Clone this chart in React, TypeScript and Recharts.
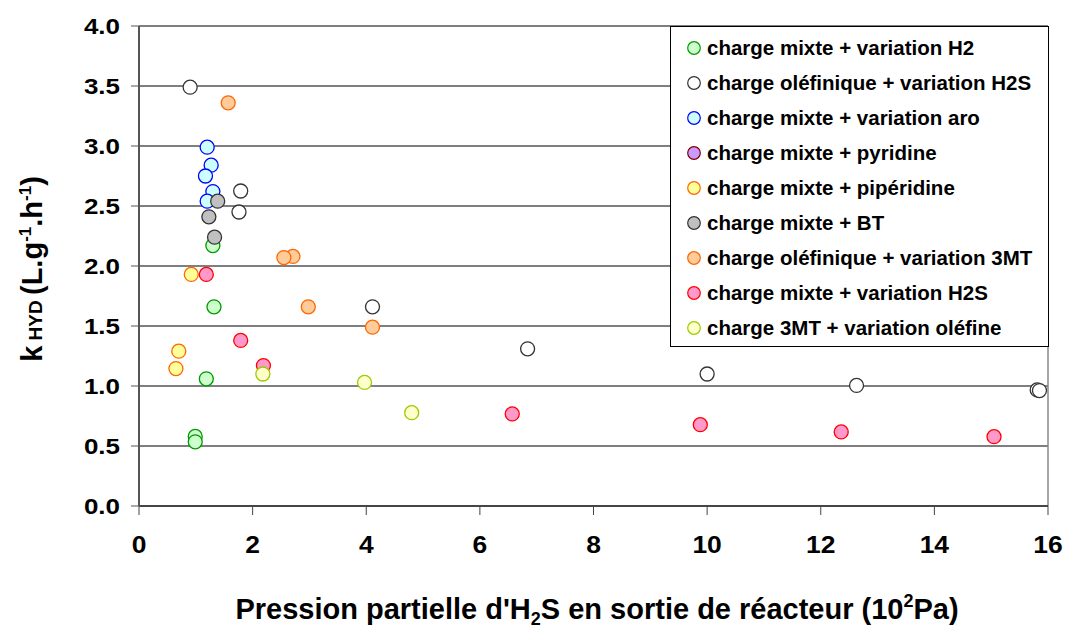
import React from 'react'
import { ScatterChart, Scatter, XAxis, YAxis, CartesianGrid, ReferenceLine } from 'recharts'

const FONT = '"Liberation Sans", Arial, Helvetica, sans-serif'

// axis ticks
const xTicks = [0, 2, 4, 6, 8, 10, 12, 14, 16]
const yTicks = [0, 0.5, 1, 1.5, 2, 2.5, 3, 3.5, 4]

// pH2S (10^2 Pa) vs kHYD (L.g-1.h-1), one array per series
const mixteH2 = [
  { x: 1.32, y: 1.66 },
  { x: 1.3, y: 2.17 },
  { x: 1.185, y: 1.06 },
  { x: 0.99, y: 0.58 },
  { x: 0.99, y: 0.535 },
]
const olefiniqueH2S = [
  { x: 0.9, y: 3.49 },
  { x: 1.79, y: 2.625 },
  { x: 1.76, y: 2.45 },
  { x: 4.11, y: 1.66 },
  { x: 6.84, y: 1.31 },
  { x: 10.0, y: 1.1 },
  { x: 12.63, y: 1.005 },
  { x: 15.81, y: 0.967 },
  { x: 15.85, y: 0.962 },
]
const mixteAro = [
  { x: 1.2, y: 2.99 },
  { x: 1.27, y: 2.84 },
  { x: 1.17, y: 2.75 },
  { x: 1.3, y: 2.62 },
  { x: 1.2, y: 2.54 },
]
const mixtePyridine: { x: number; y: number }[] = []
const mixtePiperidine = [
  { x: 0.92, y: 1.93 },
  { x: 0.7, y: 1.29 },
  { x: 0.65, y: 1.145 },
]
const mixteBT = [
  { x: 1.385, y: 2.54 },
  { x: 1.23, y: 2.41 },
  { x: 1.33, y: 2.24 },
]
const olefinique3MT = [
  { x: 1.57, y: 3.36 },
  { x: 2.71, y: 2.08 },
  { x: 2.55, y: 2.07 },
  { x: 2.98, y: 1.66 },
  { x: 4.11, y: 1.49 },
]
const mixteH2S = [
  { x: 1.185, y: 1.93 },
  { x: 1.79, y: 1.38 },
  { x: 2.19, y: 1.17 },
  { x: 6.57, y: 0.767 },
  { x: 9.88, y: 0.678 },
  { x: 12.36, y: 0.617 },
  { x: 15.05, y: 0.578 },
]
const mt3Olefine = [
  { x: 2.18, y: 1.1 },
  { x: 3.97, y: 1.03 },
  { x: 4.8, y: 0.778 },
]

const series = [
  { name: 'charge mixte + variation H2', data: mixteH2, fill: '#ccffcc', stroke: '#009900' },
  { name: 'charge oléfinique + variation H2S', data: olefiniqueH2S, fill: '#ffffff', stroke: '#333333' },
  { name: 'charge mixte + variation aro', data: mixteAro, fill: '#ccffff', stroke: '#0000ff' },
  { name: 'charge mixte + pyridine', data: mixtePyridine, fill: '#cc99ff', stroke: '#800000' },
  { name: 'charge mixte + pipéridine', data: mixtePiperidine, fill: '#ffff99', stroke: '#ff6600' },
  { name: 'charge mixte + BT', data: mixteBT, fill: '#c0c0c0', stroke: '#333333' },
  { name: 'charge oléfinique + variation 3MT', data: olefinique3MT, fill: '#ffcc99', stroke: '#ff6600' },
  { name: 'charge mixte + variation H2S', data: mixteH2S, fill: '#ff99cc', stroke: '#ff0000' },
  { name: 'charge 3MT + variation oléfine', data: mt3Olefine, fill: '#ffffcc', stroke: '#99cc00' },
]

const XTick = ({ x, y, payload }: any) => (
  <g transform={`translate(${x},${y + 38})`}>
    <text transform="scale(1.15,1)" textAnchor="middle" fontFamily={FONT} fontWeight="bold" fontSize={23} fill="#000">
      {payload.value}
    </text>
  </g>
)

const YTick = ({ x, y, payload }: any) => (
  <g transform={`translate(${x - 11},${y + 8})`}>
    <text transform="scale(1.18,1)" textAnchor="end" fontFamily={FONT} fontWeight="bold" fontSize={22} fill="#000">
      {Number(payload.value).toFixed(1)}
    </text>
  </g>
)

const dot = (fill: string, stroke: string) => (props: any) => (
  <circle cx={props.cx} cy={props.cy} r={7} fill={fill} stroke={stroke} strokeWidth={1.3} />
)

export default function App() {
  return (
    <div style={{ position: 'absolute', left: 0, top: 0, width: 1065, height: 628, background: '#fff', fontFamily: FONT }}>
      <ScatterChart width={1065} height={628} margin={{ top: 26, right: 17, bottom: 0, left: 0 }}>
        <CartesianGrid horizontal vertical={false} stroke="#000" strokeWidth={1.2} />
        <XAxis
          type="number"
          dataKey="x"
          domain={[0, 16]}
          ticks={xTicks}
          height={122}
          tickSize={9}
          tickMargin={0}
          tick={<XTick />}
          axisLine={{ stroke: '#333', strokeWidth: 1.5 }}
          tickLine={{ stroke: '#444' }}
        />
        <YAxis
          type="number"
          dataKey="y"
          domain={[0, 4]}
          ticks={yTicks}
          width={139}
          tickSize={8}
          tickMargin={0}
          tick={<YTick />}
          axisLine={{ stroke: '#555', strokeWidth: 2 }}
          tickLine={{ stroke: '#555' }}
        />
        <ReferenceLine x={16} stroke="#888" strokeWidth={1.5} />
        {series.map(s => (
          <Scatter
            key={s.name}
            name={s.name}
            data={s.data}
            fill={s.fill}
            shape={dot(s.fill, s.stroke)}
            isAnimationActive={false}
          />
        ))}
      </ScatterChart>

      {/* axis titles */}
      <svg width={1065} height={628} style={{ position: 'absolute', left: 0, top: 0, pointerEvents: 'none' }}>
        <text x={597} y={619} textAnchor="middle" fontFamily={FONT} fontWeight="bold" fontSize={29} fill="#000">
          Pression partielle d'H
          <tspan fontSize={18} dy={6}>2</tspan>
          <tspan dy={-6}>S en sortie de réacteur (10</tspan>
          <tspan fontSize={18} dy={-12}>2</tspan>
          <tspan dy={12}>Pa)</tspan>
        </text>
        <text transform="translate(42,269) rotate(-90)" textAnchor="middle" fontFamily={FONT} fontWeight="bold" fontSize={29} fill="#000">
          k
          <tspan fontSize={19}> HYD </tspan>
          <tspan>(L.g</tspan>
          <tspan fontSize={17} dy={-11}>-1</tspan>
          <tspan dy={11}>.h</tspan>
          <tspan fontSize={17} dy={-11}>-1</tspan>
          <tspan dy={11}>)</tspan>
        </text>
      </svg>

      {/* legend */}
      <div
        style={{
          position: 'absolute',
          left: 670,
          top: 26,
          width: 379,
          height: 321,
          boxSizing: 'border-box',
          border: '1.5px solid #000',
          background: '#fff',
          paddingTop: 3,
        }}
      >
        {series.map(s => (
          <div key={s.name} style={{ height: 35.1, display: 'flex', alignItems: 'center' }}>
            <svg width={36} height={16} style={{ flex: 'none' }}>
              <circle cx={23} cy={8} r={6.3} fill={s.fill} stroke={s.stroke} strokeWidth={1.2} />
            </svg>
            <span style={{ fontSize: 20.5, fontWeight: 'bold', color: '#000', whiteSpace: 'nowrap' }}>{s.name}</span>
          </div>
        ))}
      </div>
    </div>
  )
}
